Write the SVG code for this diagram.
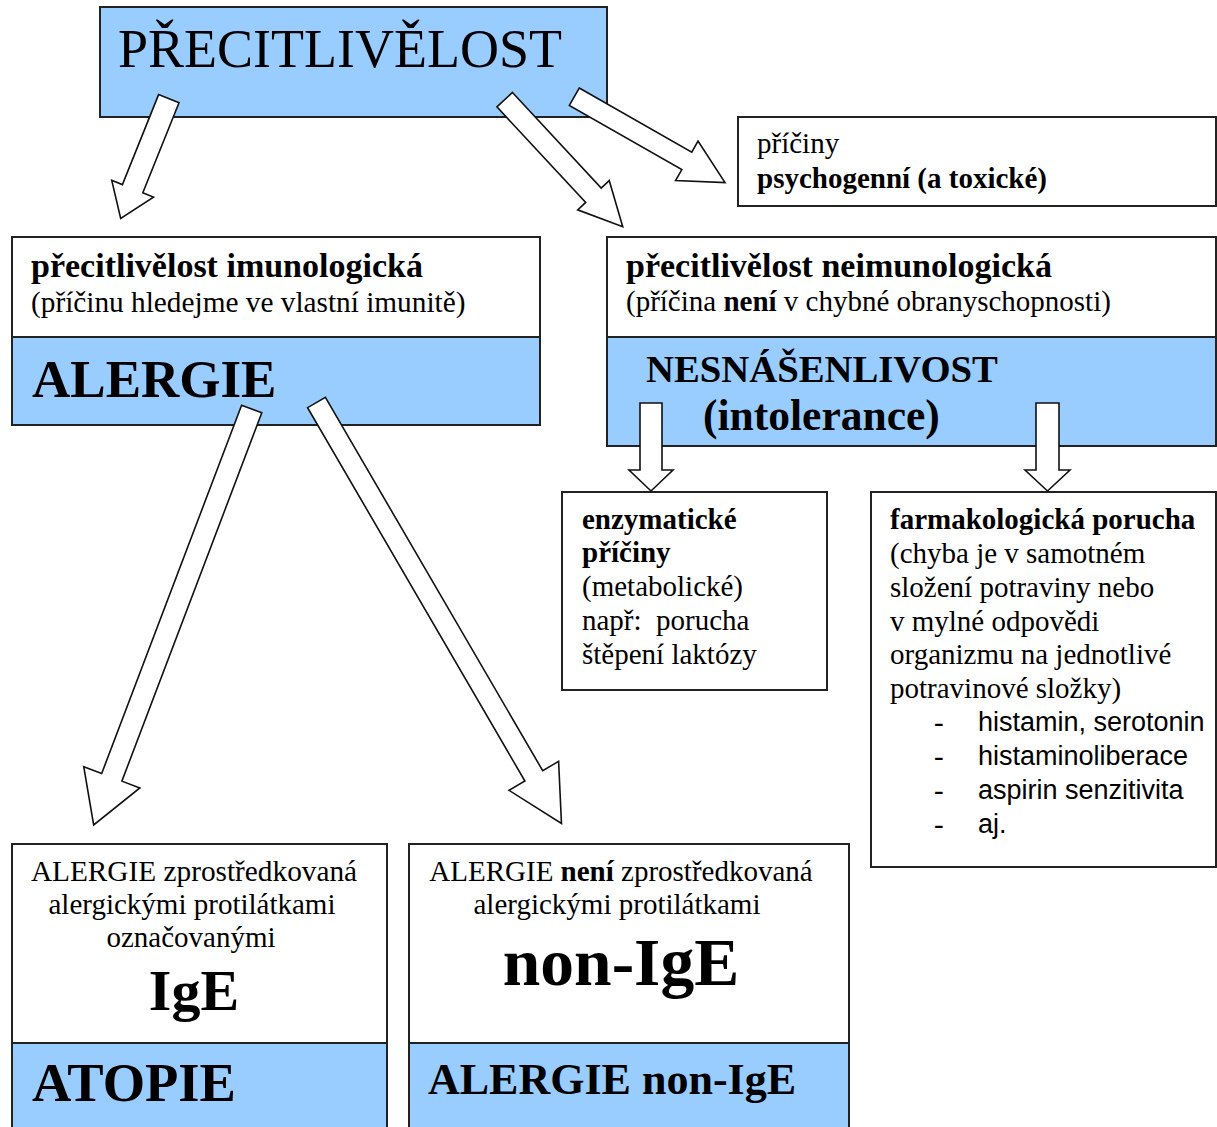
<svg xmlns="http://www.w3.org/2000/svg" width="1217" height="1127" viewBox="0 0 1217 1127">
<style>
  .box { fill: #ffffff; stroke: #222222; stroke-width: 2; }
  .blue { fill: #99ccff; stroke: #222222; stroke-width: 2; }
  .t { font-family: "Liberation Serif", "Times New Roman", serif; fill: #000000; }
  .s { font-family: "Liberation Sans", Arial, sans-serif; fill: #000000; }
  .b { font-weight: bold; }
  .arrow { fill: #ffffff; stroke: #111111; stroke-width: 1.6; stroke-linejoin: miter; }
</style>
<rect x="0" y="0" width="1217" height="1127" fill="#ffffff"/>

<g id="node-precitlivelost">
  <rect class="blue" x="100" y="7" width="507" height="110"/>
  <text class="t" x="118" y="67" font-size="54">PŘECITLIVĚLOST</text>
</g>

<g id="node-psychogenni">
  <rect class="box" x="738" y="117" width="478" height="89"/>
  <text class="t" x="757" y="153" font-size="29">příčiny</text>
  <text class="t b" x="757" y="188" font-size="29">psychogenní (a toxické)</text>
</g>

<g id="node-imunologicka">
  <rect class="box" x="12" y="237" width="528" height="100"/>
  <rect class="blue" x="12" y="337" width="528" height="88"/>
  <text class="t b" x="31" y="277" font-size="34">přecitlivělost imunologická</text>
  <text class="t" x="31" y="312" font-size="29.3">(příčinu hledejme ve vlastní imunitě)</text>
  <text class="t b" x="32" y="397" font-size="53">ALERGIE</text>
</g>

<g id="node-neimunologicka">
  <rect class="box" x="607" y="237" width="609" height="100"/>
  <rect class="blue" x="607" y="337" width="609" height="109"/>
  <text class="t b" x="626" y="277" font-size="34">přecitlivělost neimunologická</text>
  <text class="t" x="626" y="311" font-size="29">(příčina <tspan class="b">není</tspan> v chybné obranyschopnosti)</text>
  <text class="t b" x="646" y="382" font-size="38.7">NESNÁŠENLIVOST</text>
  <text class="t b" x="703" y="430" font-size="43.5">(intolerance)</text>
</g>

<g id="node-enzymaticke">
  <rect class="box" x="562" y="492" width="265" height="198"/>
  <text class="t b" x="582" y="529" font-size="29">enzymatické</text>
  <text class="t b" x="582" y="562" font-size="29">příčiny</text>
  <text class="t" x="582" y="596" font-size="29">(metabolické)</text>
  <text class="t" x="582" y="630" font-size="29" xml:space="preserve">např:  porucha</text>
  <text class="t" x="582" y="664" font-size="29">štěpení laktózy</text>
</g>

<g id="node-farmakologicka">
  <rect class="box" x="871" y="492" width="345" height="375"/>
  <text class="t b" x="890" y="529" font-size="29">farmakologická porucha</text>
  <text class="t" x="890" y="563" font-size="29">(chyba je v samotném</text>
  <text class="t" x="890" y="597" font-size="29">složení potraviny nebo</text>
  <text class="t" x="890" y="631" font-size="29">v mylné odpovědi</text>
  <text class="t" x="890" y="664" font-size="29">organizmu na jednotlivé</text>
  <text class="t" x="890" y="698" font-size="29">potravinové složky)</text>
  <text class="t" x="934" y="732" font-size="29">-</text>
  <text class="s" x="978" y="731" font-size="27">histamin, serotonin</text>
  <text class="t" x="934" y="766" font-size="29">-</text>
  <text class="s" x="978" y="765" font-size="27">histaminoliberace</text>
  <text class="t" x="934" y="800" font-size="29">-</text>
  <text class="s" x="978" y="799" font-size="27">aspirin senzitivita</text>
  <text class="t" x="934" y="834" font-size="29">-</text>
  <text class="s" x="978" y="833" font-size="27">aj.</text>
</g>

<g id="node-atopie">
  <rect class="box" x="12" y="844" width="375" height="199"/>
  <rect class="blue" x="12" y="1043" width="375" height="90"/>
  <text class="t" x="194" y="881" font-size="29.3" text-anchor="middle">ALERGIE zprostředkovaná</text>
  <text class="t" x="192" y="914" font-size="29" text-anchor="middle">alergickými protilátkami</text>
  <text class="t" x="191" y="947" font-size="29" text-anchor="middle">označovanými</text>
  <text class="t b" x="194" y="1010" font-size="58" text-anchor="middle">IgE</text>
  <text class="t b" x="32" y="1101" font-size="54.5">ATOPIE</text>
</g>

<g id="node-nonige">
  <rect class="box" x="409" y="844" width="440" height="199"/>
  <rect class="blue" x="409" y="1043" width="440" height="90"/>
  <text class="t" x="621" y="881" font-size="29" text-anchor="middle">ALERGIE <tspan class="b">není</tspan> zprostředkovaná</text>
  <text class="t" x="617" y="914" font-size="29" text-anchor="middle">alergickými protilátkami</text>
  <text class="t b" x="621" y="985" font-size="67.5" text-anchor="middle">non-IgE</text>
  <text class="t b" x="428" y="1094" font-size="44">ALERGIE non-IgE</text>
</g>

<g id="connectors">
  <polygon class="arrow" points="0,-11 97,-11 97,-22.5 129,0 97,22.5 97,11 0,11" transform="translate(168.8,98.7) rotate(111.9)"/>
  <polygon class="arrow" points="0,-10.6 130.4,-10.6 130.4,-21.5 173.4,0 130.4,21.5 130.4,10.6 0,10.6" transform="translate(504.7,99.7) rotate(47.1)"/>
  <polygon class="arrow" points="0,-10 129.5,-10 129.5,-22.7 173.5,0 129.5,22.7 129.5,10 0,10" transform="translate(574.3,96.7) rotate(29.7)"/>
  <polygon class="arrow" points="0,-10.8 394,-10.8 394,-30 445,0 394,30 394,10.8 0,10.8" transform="translate(251.7,409) rotate(110.8)"/>
  <polygon class="arrow" points="0,-10.3 432,-10.3 432,-28.7 487,0 432,28.7 432,10.3 0,10.3" transform="translate(316.5,402.5) rotate(59.8)"/>
  <polygon class="arrow" points="640,403 662,403 662,470 673,470 651,491 629,470 640,470"/>
  <polygon class="arrow" points="1036,403 1059,403 1059,470 1070,470 1047.5,491 1025,470 1036,470"/>
</g>
</svg>
